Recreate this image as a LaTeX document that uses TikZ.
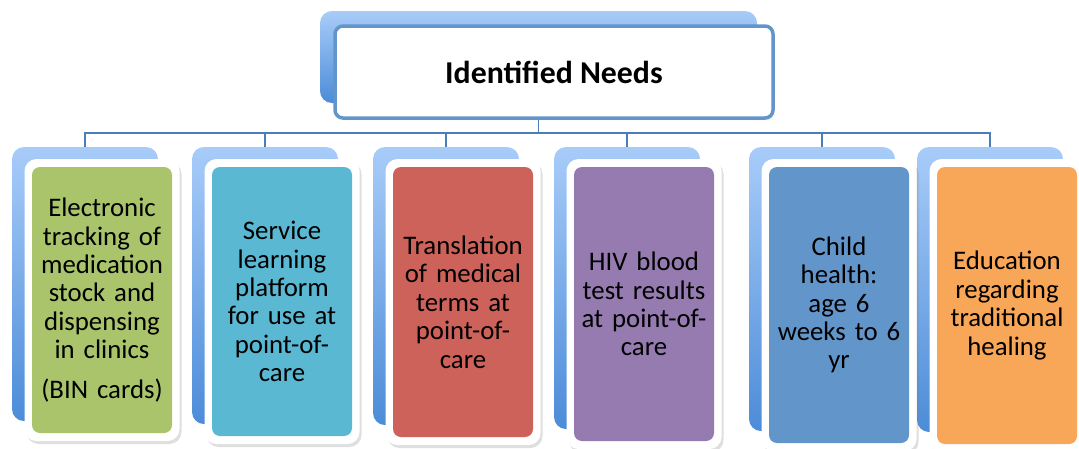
\documentclass[tikz,border=0pt]{standalone}
\usepackage{fontspec}
\setmainfont{Carlito}
\usetikzlibrary{shadows}

\definecolor{needgreen}{RGB}{169,196,106}
\definecolor{needteal}{RGB}{91,184,210}
\definecolor{needred}{RGB}{205,98,90}
\definecolor{needpurple}{RGB}{149,123,176}
\definecolor{needblue}{RGB}{98,149,201}
\definecolor{needorange}{RGB}{248,166,88}
\definecolor{panellight}{RGB}{168,204,249}
\definecolor{paneldark}{RGB}{76,140,216}
\definecolor{linkblue}{RGB}{74,126,187}

\begin{document}
\begin{tikzpicture}[x=1pt,y=-1pt]
	\tikzstyle{panel}=[rounded corners=12pt, top color=panellight, bottom color=paneldark, inner sep=0pt, minimum width=146pt]
	\tikzstyle{card}=[rounded corners=12pt, fill=white, inner sep=0pt, minimum width=155pt, drop shadow={opacity=0.25, shadow xshift=2pt, shadow yshift=-3pt}]
	\tikzstyle{need}=[rounded corners=8pt, inner sep=0pt, minimum width=140pt, text width=138pt, align=center, font=\fontsize{26.8}{28.4}\selectfont]
	\tikzstyle{link}=[draw=linkblue, line width=1.5pt]

	\useasboundingbox (0,0) rectangle (1079,448);

	% connectors
	\coordinate (bus) at (538.5,133);

	% top box
	\node[panel, minimum width=437pt, minimum height=92pt] (needsback) at (538.5,57) {};
	\node[rounded corners=8pt, draw=needblue, line width=3.5pt, fill=white, minimum width=438pt, minimum height=92pt, font=\fontsize{31.8}{36}\selectfont\bfseries, drop shadow={opacity=0.2, shadow xshift=1pt, shadow yshift=-2pt}] (needs) at (554,72) {Identified Needs};

	% back panels
	\node[panel, minimum height=274pt] (back1) at (85,284) {};
	\node[panel, minimum height=277pt] (back2) at (265,285.5) {};
	\node[panel, minimum height=278pt] (back3) at (446,286) {};
	\node[panel, minimum height=282pt] (back4) at (627,288) {};
	\node[panel, minimum height=284pt] (back5) at (822,289) {};
	\node[panel, minimum height=285pt] (back6) at (990,289.5) {};

	\draw[link] (needs.south -| bus) -- (bus);
	\foreach \i in {1,...,6}
		\draw[link] (bus) -| (back\i.north);

	% white cards
	\node[card, minimum height=282pt] (card1) at (102,300) {};
	\node[card, minimum height=285pt] (card2) at (282,301.5) {};
	\node[card, minimum height=286pt] (card3) at (463,302) {};
	\node[card, minimum height=290pt] (card4) at (644,304) {};
	\node[card, minimum height=292pt] (card5) at (839,305) {};
	\node[card, minimum height=293pt] (card6) at (1007,305.5) {};

	% needs
	\node[need, fill=needgreen, minimum height=266pt] (need1) at (card1) {Electronic\\tracking of\\medication\\stock and\\dispensing\\in clinics\\[11pt](BIN cards)};
	\node[need, fill=needteal, minimum height=269pt] (need2) at (card2) {Service\\learning\\platform\\for use at\\point-of-\\care};
	\node[need, fill=needred, minimum height=270pt] (need3) at (card3) {Translation\\of medical\\terms at\\point-of-\\care};
	\node[need, fill=needpurple, minimum height=274pt] (need4) at (card4) {HIV blood\\test results\\at point-of-\\care};
	\node[need, fill=needblue, minimum height=276pt] (need5) at (card5) {Child\\health:\\age 6\\weeks to 6\\yr};
	\node[need, fill=needorange, minimum height=277pt] (need6) at (card6) {Education\\regarding\\traditional\\healing};
\end{tikzpicture}
\end{document}
